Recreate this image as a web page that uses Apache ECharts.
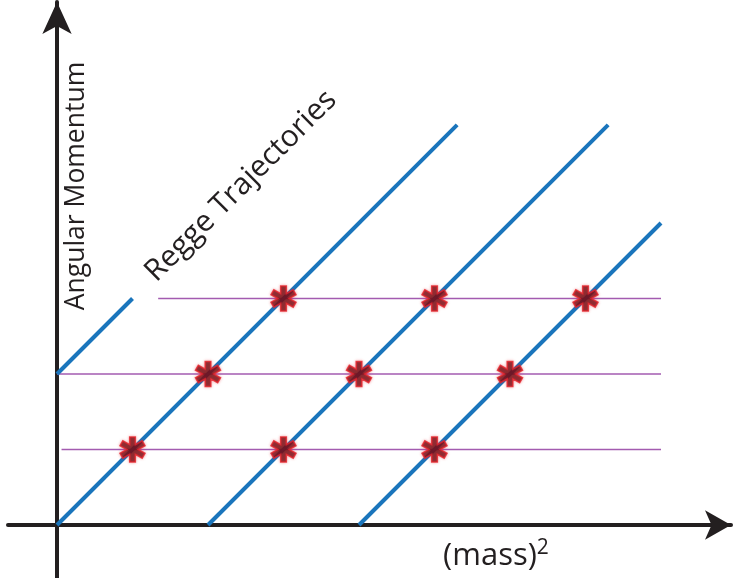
<!DOCTYPE html>
<html>
<head>
<meta charset="utf-8">
<style>
  html, body { margin: 0; padding: 0; background: #ffffff; }
  #chart { width: 735px; height: 578px; }
</style>
<script src="https://cdn.jsdelivr.net/npm/echarts@6/dist/echarts.min.js"></script>
</head>
<body>
<div id="chart"></div>
<script>
// Regge trajectories: J = (mass)^2 - intercept, drawn as straight segments
const trajectoryA = [[0, 0], [5.3, 5.3]];
const trajectoryB = [[2, 0], [7.3, 5.3]];
const trajectoryC = [[4, 0], [8.0, 4.0]];
const trajectoryD = [[0, 2], [1.0, 3.0]];

// Angular momentum levels (horizontal guide lines): J, start, end on the mass axis
const levelJ = [1, 2, 3];
const levelStart = [0.06, 0, 1.34];
const levelEnd = [8.0, 8.0, 8.0];

// Bound states where trajectories cross integer J
const states = [
  [1, 1], [2, 2], [3, 3],
  [3, 1], [4, 2], [5, 3],
  [5, 1], [6, 2], [7, 3]
];

// Six-armed asterisk outline used as the state marker
function asteriskPath(R, h) {
  const pts = [];
  for (let k = 0; k < 6; k++) {
    const t = (90 + 60 * k) * Math.PI / 180;
    const dx = Math.cos(t), dy = -Math.sin(t);
    const nx = -dy, ny = dx;
    pts.push([R * dx + h * nx, R * dy + h * ny]);
    pts.push([R * dx - h * nx, R * dy - h * ny]);
    const b = t + 30 * Math.PI / 180;
    pts.push([2 * h * Math.cos(b), -2 * h * Math.sin(b)]);
  }
  return 'path://M' + pts.map(p => p[0].toFixed(3) + ',' + p[1].toFixed(3)).join('L') + 'Z';
}

const BLUE = '#1a75bc';
const PURPLE = '#a35bb0';
const AXIS = '#231f20';

const chart = echarts.init(document.getElementById('chart'), null, { renderer: 'canvas' });

const series = [];
levelJ.forEach((j, i) => {
  series.push({
    type: 'line',
    data: [[levelStart[i], j], [levelEnd[i], j]],
    symbol: 'none',
    silent: true,
    z: 2,
    lineStyle: { color: PURPLE, width: 1.5 }
  });
});
[trajectoryA, trajectoryB, trajectoryC, trajectoryD].forEach(t => {
  series.push({
    type: 'line',
    data: t,
    symbol: 'none',
    silent: true,
    z: 3,
    lineStyle: { color: BLUE, width: 4, cap: 'butt' }
  });
});
series.push({
  type: 'scatter',
  data: states,
  symbol: asteriskPath(10, 2.2),
  symbolSize: 25,
  z: 5,
  itemStyle: {
    color: '#6e0a10',
    borderColor: '#e5232b',
    borderWidth: 1.5,
    shadowColor: 'rgba(230,40,50,0.45)',
    shadowBlur: 3
  }
});

chart.setOption({
  animation: false,
  backgroundColor: '#ffffff',
  grid: { left: 8, right: 4, top: 2, bottom: 0, containLabel: false },
  xAxis: {
    type: 'value',
    min: -0.649, max: 8.927,
    axisLine: {
      show: true, onZero: true,
      symbol: ['none', 'arrow'], symbolSize: [22, 26],
      lineStyle: { color: AXIS, width: 4 }
    },
    axisTick: { show: false },
    axisLabel: { show: false },
    splitLine: { show: false }
  },
  yAxis: {
    type: 'value',
    min: -0.702, max: 6.927,
    axisLine: {
      show: true, onZero: true,
      symbol: ['none', 'arrow'], symbolSize: [22, 32],
      lineStyle: { color: AXIS, width: 4 }
    },
    axisTick: { show: false },
    axisLabel: { show: false },
    splitLine: { show: false }
  },
  graphic: [
    {
      type: 'text',
      x: 76, y: 186,
      rotation: Math.PI / 2,
      style: {
        text: 'Angular Momentum',
        font: '26.5px "Open Sans"',
        fill: AXIS,
        align: 'center',
        verticalAlign: 'middle'
      }
    },
    {
      type: 'text',
      x: 241, y: 186,
      rotation: Math.PI / 4,
      style: {
        text: 'Regge Trajectories',
        font: '30px "Open Sans"',
        fill: AXIS,
        align: 'center',
        verticalAlign: 'middle'
      }
    },
    {
      type: 'text',
      x: 496, y: 556,
      style: {
        text: '{m|(mass)}{s|2}',
        align: 'center',
        verticalAlign: 'middle',
        rich: {
          m: { font: '31px "Open Sans"', fill: AXIS },
          s: { font: '21px "Open Sans"', fill: AXIS, verticalAlign: 'top', padding: [0, 0, 16, 0] }
        }
      }
    }
  ],
  series: series
});
</script>
</body>
</html>
